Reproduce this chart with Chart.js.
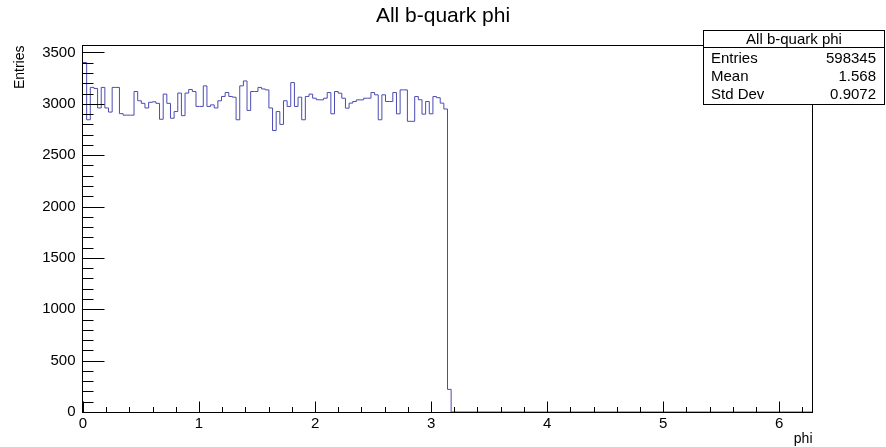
<!DOCTYPE html>
<html>
<head>
<meta charset="utf-8">
<title>All b-quark phi</title>
<script src="https://cdn.jsdelivr.net/npm/chart.js@4.4.1/dist/chart.umd.min.js"></script>
<style>
  html, body { margin: 0; padding: 0; background: #fff; }
  canvas { display: block; }
</style>
</head>
<body>
<canvas id="histChart" width="886" height="447"></canvas>
<script>
// Histogram contents (100 bins per pi, range 0..2pi)
const binWidth = Math.PI / 100;
const xRange = [0, 2 * Math.PI];
const yRange = [0, 3573];
const binValues = [
    3403, 2845, 3160, 3150, 2960, 3160, 2960, 2920, 3160, 3160,
    2905, 2890, 2890, 2890, 3120, 3030, 3005, 2960, 3015, 3020,
    3005, 2850, 3095, 3005, 2860, 2925, 3105, 2885, 3105, 3140,
    3120, 2975, 2975, 3175, 2975, 2990, 2960, 3030, 3072, 3110,
    3072, 3065, 2845, 3175, 3223, 2936, 3120, 3120, 3160, 3145,
    3136, 2960, 2740, 2925, 2800, 3030, 2975, 3207, 2975, 3065,
    2845, 3072, 3095, 3055, 3040, 3039, 3055, 3110, 2903, 3120,
    3104, 3055, 2958, 3007, 3023, 3039, 3039, 3055, 3055, 3110,
    3088, 2845, 3088, 3023, 3023, 3110, 2903, 3136, 3136, 2830,
    2830, 3071, 3040, 2900, 3023, 2903, 3071, 3060, 3007, 2950,
    220
];

// Axis ticks
const xTickLabels = [0, 1, 2, 3, 4, 5, 6];
const xMinorStep = 0.2;
const yTickLabels = [0, 500, 1000, 1500, 2000, 2500, 3000, 3500];
const yMinorStep = 100;

// Stats box
const statsTitle = "All b-quark phi";
const statsNames = ["Entries", "Mean", "Std Dev"];
const statsValues = ["598345", "1.568", "0.9072"];

const FONT = "'Liberation Sans', Arial, Helvetica, sans-serif";

// Build step points: left edge of every bin, then close down to zero
const histPoints = binValues.map((v, i) => ({ x: i * binWidth, y: v }));
histPoints.push({ x: binValues.length * binWidth, y: 0 });
histPoints.push({ x: xRange[1], y: 0 });

const rootFrame = {
    id: 'rootFrame',
    afterDatasetsDraw(chart) {
        const { ctx, chartArea: a, scales: { x, y } } = chart;
        const L = Math.round(a.left) - 0.5, R = Math.round(a.right) + 0.5;
        const T = Math.round(a.top) + 0.5, B = Math.round(a.bottom) + 0.5;

        ctx.save();
        ctx.strokeStyle = '#000';
        ctx.lineWidth = 1;
        ctx.strokeRect(L, T, R - L, B - T);

        // x ticks (inside, from bottom)
        ctx.beginPath();
        const nx = Math.floor((xRange[1] - xRange[0]) / xMinorStep + 1e-6);
        for (let k = 0; k <= nx; k++) {
            const v = k * xMinorStep;
            const px = Math.round(x.getPixelForValue(v)) + 0.5;
            const major = Math.abs(v - Math.round(v)) < 1e-6;
            ctx.moveTo(px, B);
            ctx.lineTo(px, B - (major ? 11 : 5.5));
        }
        // y ticks (inside, from left)
        for (let v = 0; v <= yRange[1]; v += yMinorStep) {
            const py = Math.round(y.getPixelForValue(v)) + 0.5;
            const major = v % 500 === 0;
            ctx.moveTo(L, py);
            ctx.lineTo(L + (major ? 22 : 11), py);
        }
        ctx.stroke();

        // tick labels
        ctx.fillStyle = '#000';
        ctx.font = `15px ${FONT}`;
        ctx.textAlign = 'center';
        ctx.textBaseline = 'top';
        xTickLabels.forEach(v => {
            ctx.fillText(String(v), x.getPixelForValue(v), B + 4);
        });
        ctx.textAlign = 'right';
        ctx.textBaseline = 'middle';
        yTickLabels.forEach(v => {
            ctx.fillText(String(v), L - 7, y.getPixelForValue(v));
        });

        // axis titles
        ctx.font = `14px ${FONT}`;
        ctx.textAlign = 'right';
        ctx.textBaseline = 'alphabetic';
        ctx.fillText('phi', R, 443);
        ctx.save();
        ctx.translate(24, T);
        ctx.rotate(-Math.PI / 2);
        ctx.textAlign = 'right';
        ctx.fillText('Entries', 0, 0);
        ctx.restore();

        // main title
        ctx.font = `21px ${FONT}`;
        ctx.textAlign = 'center';
        ctx.textBaseline = 'middle';
        ctx.fillText('All b-quark phi', 443, 16);

        // stats box
        const bx = 703.5, by = 30.5, bw = 181, bh = 74, sep = 47.5;
        ctx.fillStyle = '#fff';
        ctx.fillRect(bx, by, bw, bh);
        ctx.strokeRect(bx, by, bw, bh);
        ctx.beginPath();
        ctx.moveTo(bx, sep);
        ctx.lineTo(bx + bw, sep);
        ctx.stroke();
        ctx.fillStyle = '#000';
        ctx.font = `15px ${FONT}`;
        ctx.textAlign = 'center';
        ctx.fillText(statsTitle, bx + bw / 2, 39.5);
        const rowY = [58.5, 77, 95];
        statsNames.forEach((name, i) => {
            ctx.textAlign = 'left';
            ctx.fillText(name, 711, rowY[i]);
            ctx.textAlign = 'right';
            ctx.fillText(statsValues[i], 876, rowY[i]);
        });
        ctx.restore();
    }
};

const ctx = document.getElementById('histChart').getContext('2d');
new Chart(ctx, {
    type: 'line',
    plugins: [rootFrame],
    data: {
        datasets: [{
            data: histPoints,
            borderColor: '#4b4bb4',
            borderWidth: 1,
            stepped: 'before',
            pointRadius: 0,
            fill: false,
            tension: 0
        }]
    },
    options: {
        responsive: false,
        animation: false,
        devicePixelRatio: 1,
        layout: { padding: { left: 83, right: 74, top: 45, bottom: 35 } },
        plugins: {
            legend: { display: false },
            tooltip: { enabled: false },
            title: { display: false }
        },
        scales: {
            x: { type: 'linear', min: xRange[0], max: xRange[1], display: false },
            y: { type: 'linear', min: yRange[0], max: yRange[1], display: false }
        }
    }
});
</script>
</body>
</html>
